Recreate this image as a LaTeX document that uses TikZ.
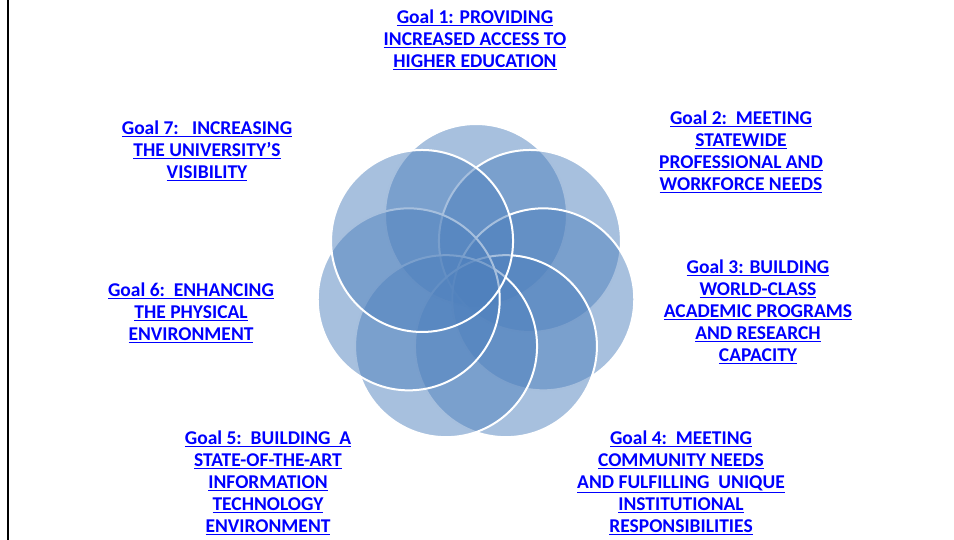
\documentclass[tikz,border=0pt]{standalone}
\usepackage{fontspec}
\setmainfont{Carlito}
\definecolor{petalblue}{HTML}{4F81BD}
\definecolor{goalblue}{RGB}{0,0,255}
\newcommand{\gl}[1]{\underline{#1}}
\begin{document}
\begin{tikzpicture}[x=1pt,y=-1pt,
  petal/.style={circle, minimum size=182pt, inner sep=0pt, fill=petalblue,
    fill opacity=0.5, draw=white, draw opacity=1, line width=2pt},
  goal/.style={align=center, text=goalblue, inner sep=0pt,
    font=\fontsize{19.5}{22}\selectfont\bfseries}]
\useasboundingbox (0,0) rectangle (954,540);
\coordinate (lt) at (8.3,0);
\coordinate (lb) at (8.3,540);
\draw[line width=2pt] (lt) -- (lb);
\foreach \k in {0,...,6} {
  \pgfmathsetmacro\a{90-\k*360/7}
  \node[petal] (c\k) at ({476+69*cos(\a)}, {284-69*sin(\a)}) {};
}
\node[goal] (g1) at (475,40) {\gl{Goal 1: PROVIDING}\\ \gl{INCREASED ACCESS TO}\\ \gl{HIGHER EDUCATION}};
\node[goal] (g2) at (741,152) {\gl{Goal 2:\ \ MEETING}\\ \gl{STATEWIDE}\\ \gl{PROFESSIONAL AND}\\ \gl{WORKFORCE NEEDS}};
\node[goal] (g3) at (758,312) {\gl{Goal 3: BUILDING}\\ \gl{WORLD-CLASS}\\ \gl{ACADEMIC PROGRAMS}\\ \gl{AND RESEARCH}\\ \gl{CAPACITY}};
\node[goal] (g4) at (681,483) {\gl{Goal 4:\ \ MEETING}\\ \gl{COMMUNITY NEEDS}\\ \gl{AND FULFILLING\ \ UNIQUE}\\ \gl{INSTITUTIONAL}\\ \gl{RESPONSIBILITIES}};
\node[goal] (g5) at (268,483) {\gl{Goal 5:\ \ BUILDING\ \ A}\\ \gl{STATE-OF-THE-ART}\\ \gl{INFORMATION}\\ \gl{TECHNOLOGY}\\ \gl{ENVIRONMENT}};
\node[goal] (g6) at (191,313) {\gl{Goal 6:\ \ ENHANCING}\\ \gl{THE PHYSICAL}\\ \gl{ENVIRONMENT}};
\node[goal] (g7) at (207,151) {\gl{Goal 7:\ \ \ INCREASING}\\ \gl{THE UNIVERSITY'S}\\ \gl{VISIBILITY}};
\end{tikzpicture}
\end{document}
